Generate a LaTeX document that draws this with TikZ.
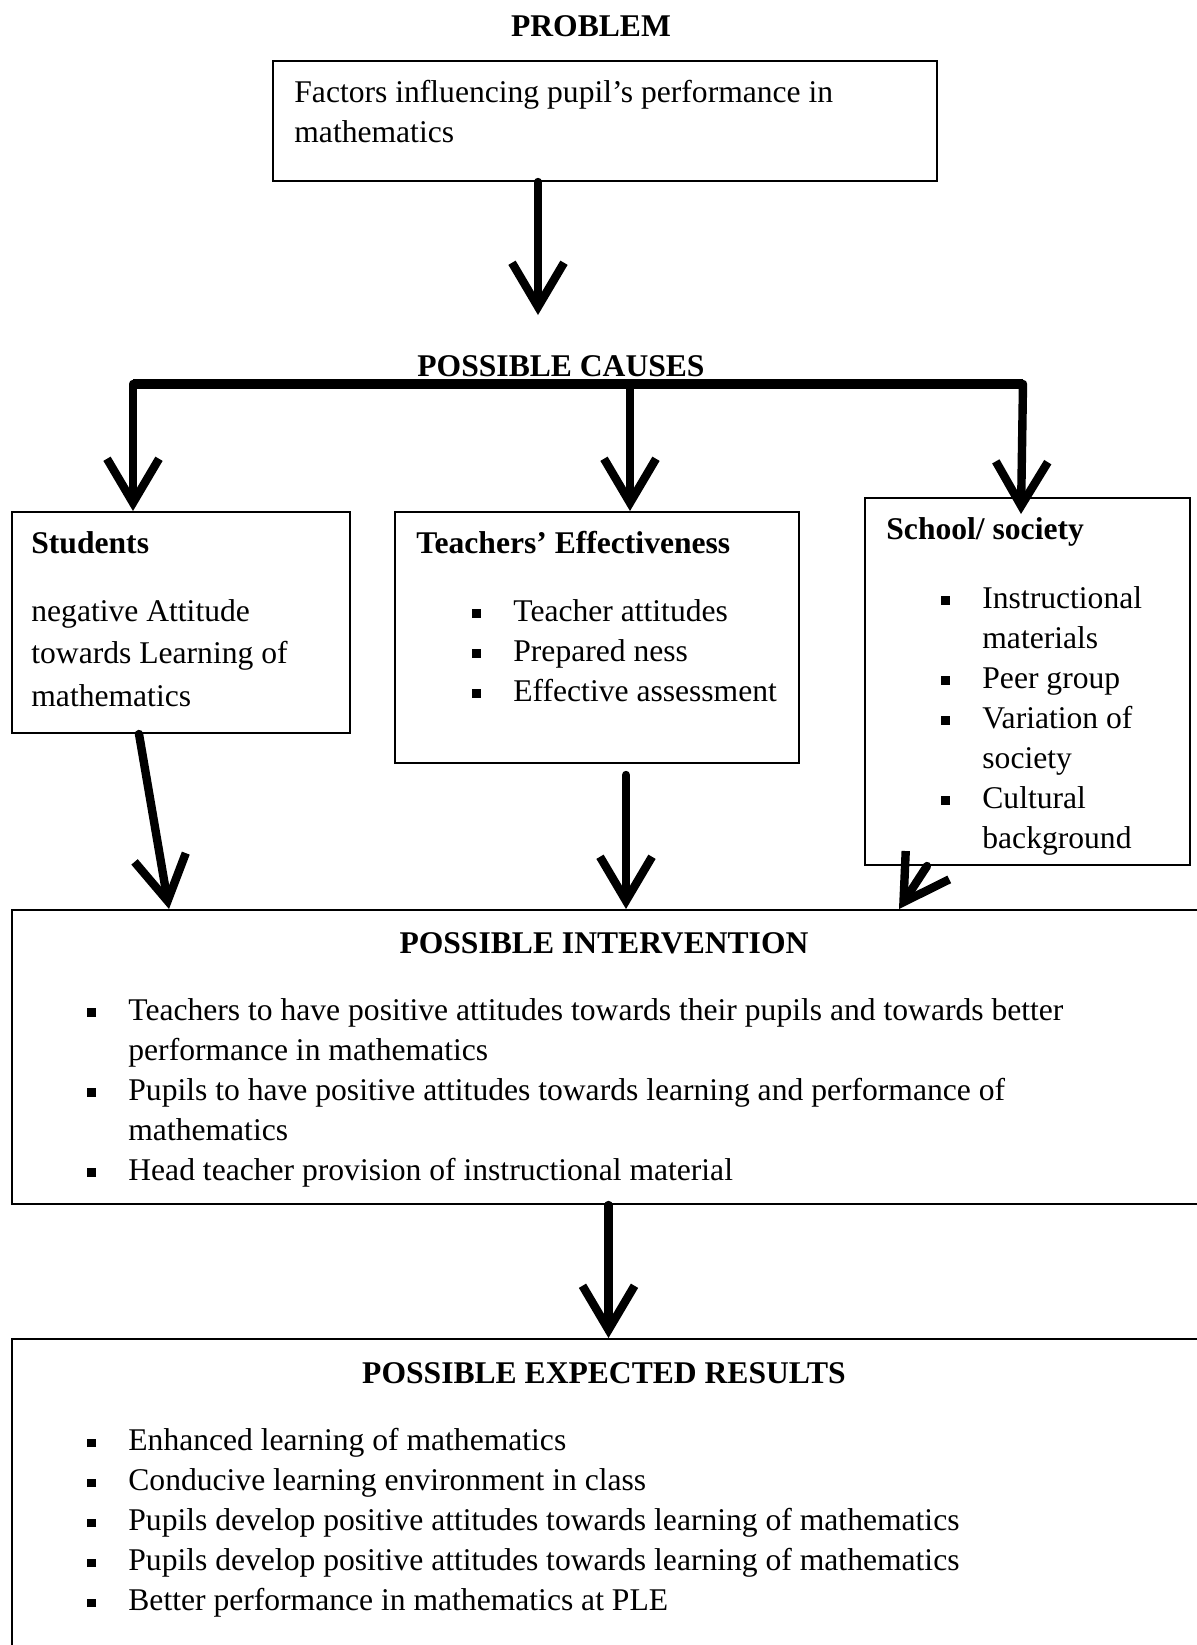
\documentclass[tikz,border=0pt]{standalone}
\usepackage{fontspec}
\setmainfont{Liberation Serif}
\usetikzlibrary{arrows.meta,fit}

\newcommand\sqbul{\rule[1.8pt]{4.2pt}{4.2pt}}
\newcommand\bitem{\makebox[20.5pt][l]{\sqbul}}
\newcommand\bskip{\hspace*{20.5pt}}

\begin{document}
\begin{tikzpicture}[x=0.5pt,y=-0.5pt,
  box/.style={draw, line width=1pt, inner sep=0pt},
  txt/.style={anchor=north west, inner sep=0pt, align=left, font=\fontsize{15.8}{20}\selectfont},
  head/.style={inner sep=0pt, font=\fontsize{15.8}{20}\selectfont\bfseries},
  arr/.style={line width=4.2pt, line cap=round, -{Straight Barb[length=22pt,width=26pt]}}]
\useasboundingbox (0,0) rectangle (1197,1645);
\clip (0,0) rectangle (1197,1645);

\node[head] (problem) at (591,26) {PROBLEM};
\node[box, fit={(273,61)(937,181)}] (prob) {};
\node[txt] (probtxt) at (294,80) {Factors influencing pupil’s performance in\\mathematics};

\coordinate (c1) at (538,315);
\draw[arr] (prob.south -| c1) -- (c1);

\node[head] (causes) at (561,366) {POSSIBLE CAUSES};

\node[box, fit={(12,512)(350,733)}] (stud) {};
\node[box, fit={(395,512)(799,763)}] (teach) {};
\node[box, fit={(865,498)(1190,865)}] (school) {};

\node[head, anchor=north west] (studhead) at (31,531) {Students};
\node[txt, font=\fontsize{15.8}{21.2}\selectfont] (studtxt) at (31,599)
  {negative Attitude\\towards Learning of\\mathematics};

\node[head, anchor=north west] (teachhead) at (416,531) {Teachers’ Effectiveness};
\node[txt] (teachtxt) at (472,599)
  {\bitem Teacher attitudes\\\bitem Prepared ness\\\bitem Effective assessment};

\node[head, anchor=north west] (schoolhead) at (886,517) {School/ society};
\node[txt] (schooltxt) at (941,586)
  {\bitem Instructional\\\bskip materials\\\bitem Peer group\\\bitem Variation of\\\bskip society\\\bitem Cultural\\\bskip background};

\coordinate (bl) at (133,384);
\coordinate (bm) at (630,384);
\coordinate (br) at (1023,384);
\draw[line width=5.2pt] (bl) -- (br);
\draw[arr] (bl) -- (bl |- stud.north);
\draw[arr] (bm) -- (bm |- teach.north);
\coordinate (t3) at (1021,514);
\draw[arr] (br) -- (t3);

\node[box, fit={(12,910)(1205,1204)}] (interv) {};
\node[head] (intervhead) at (604,943) {POSSIBLE INTERVENTION};
\node[txt] (intervtxt) at (87,998)
  {\bitem Teachers to have positive attitudes towards their pupils and towards better\\
   \bskip performance in mathematics\\
   \bitem Pupils to have positive attitudes towards learning and performance of\\
   \bskip mathematics\\
   \bitem Head teacher provision of instructional material};

\draw[arr] ([xshift=64pt]stud.south west) -- ([xshift=79pt]interv.north west);
\draw[arr] ([xshift=14.5pt,yshift=-5.5pt]teach.south) -- ([xshift=14.5pt]teach.south |- interv.north);
\draw[arr] ([xshift=31.5pt]school.south west) -- ([xshift=444pt]interv.north west);

\node[box, fit={(12,1339)(1205,1655)}] (res) {};
\node[head] (reshead) at (604,1373) {POSSIBLE EXPECTED RESULTS};
\node[txt] (restxt) at (87,1428)
  {\bitem Enhanced learning of mathematics\\
   \bitem Conducive learning environment in class\\
   \bitem Pupils develop positive attitudes towards learning of mathematics\\
   \bitem Pupils develop positive attitudes towards learning of mathematics\\
   \bitem Better performance in mathematics at PLE};

\draw[arr] (interv.south) -- (res.north);
\end{tikzpicture}
\end{document}
